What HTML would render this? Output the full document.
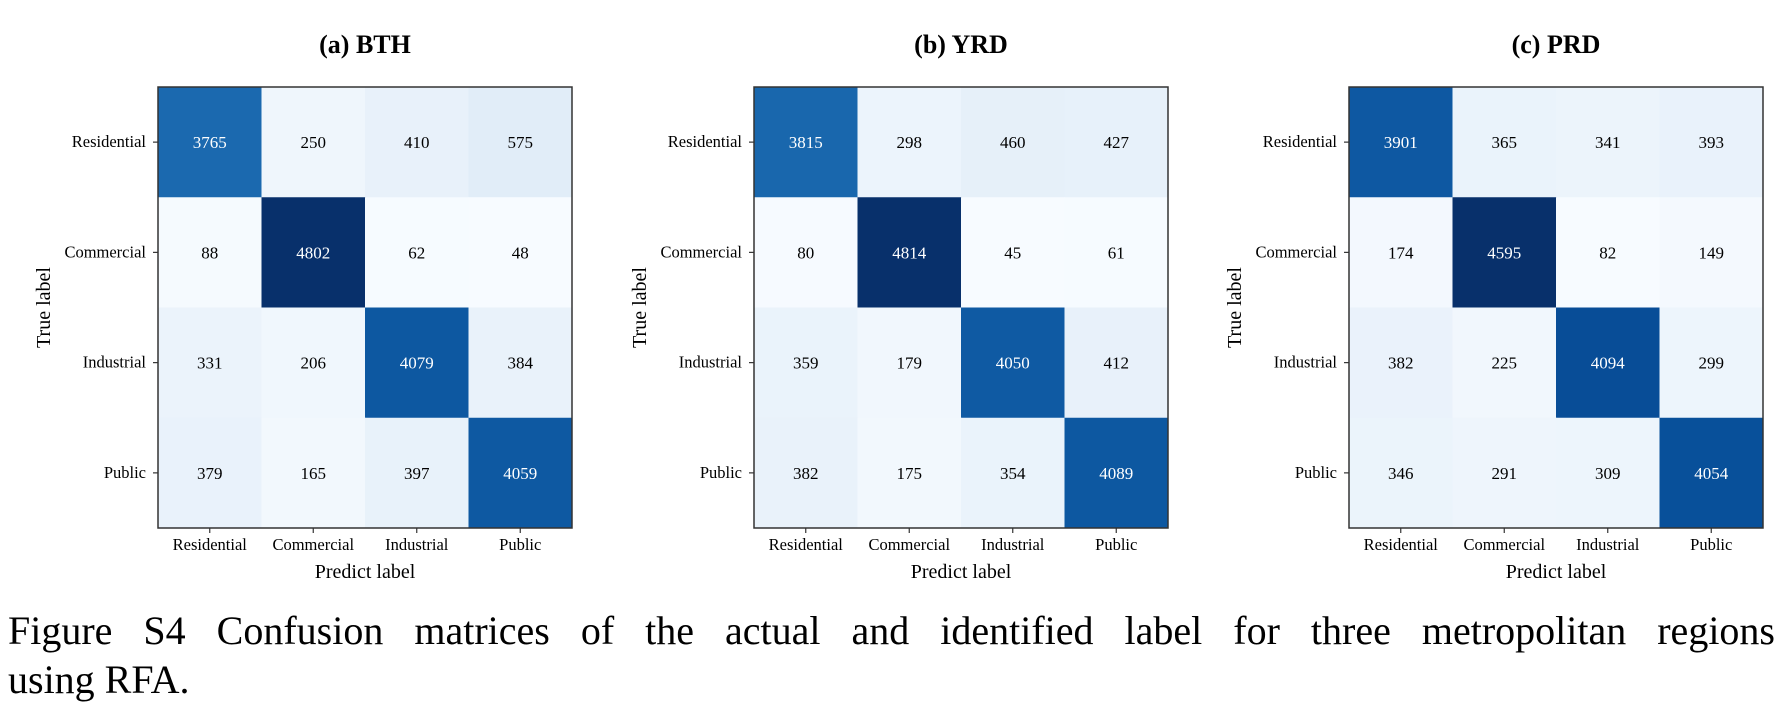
<!DOCTYPE html>
<html><head><meta charset="utf-8">
<style>
html,body{margin:0;padding:0;background:#fff;}
body{width:1784px;height:726px;overflow:hidden;position:relative;font-family:"Liberation Serif",serif;}
#cap{position:absolute;left:8px;width:1767px;top:606px;font-size:40px;line-height:49px;color:#000;}
#cap .l1{display:block;white-space:nowrap;text-align:justify;text-align-last:justify;}
</style></head>
<body>
<svg id="chart" width="1784" height="600" style="position:absolute;left:0;top:0" font-family="Liberation Serif, serif"></svg>
<div id="cap"><span class="l1">Figure S4 Confusion matrices of the actual and identified label for three metropolitan regions</span>using RFA.</div>
<script>
const classLabels = ["Residential","Commercial","Industrial","Public"];
const panelTitles = ["(a) BTH","(b) YRD","(c) PRD"];
const bthValues = [[3765,250,410,575],[88,4802,62,48],[331,206,4079,384],[379,165,397,4059]];
const yrdValues = [[3815,298,460,427],[80,4814,45,61],[359,179,4050,412],[382,175,354,4089]];
const prdValues = [[3901,365,341,393],[174,4595,82,149],[382,225,4094,299],[346,291,309,4054]];

(function(){
const panels=[bthValues,yrdValues,prdValues];
const lefts=[158,754,1349], T=87, W=414, H=441;
const blues=["#f7fbff","#deebf7","#c6dbef","#9ecae1","#6baed6","#4292c6","#2171b5","#08519c","#08306b"];
function hex(h){return [1,3,5].map(i=>parseInt(h.substr(i,2),16));}
function cmap(t){t=Math.max(0,Math.min(1,t));const p=t*8,i=Math.min(7,Math.floor(p)),f=p-i;const a=hex(blues[i]),b=hex(blues[i+1]);return "rgb("+a.map((v,k)=>Math.round(v+(b[k]-v)*f)).join(",")+")";}
const NS="http://www.w3.org/2000/svg", svg=document.getElementById("chart");
function el(tag,attrs,parent,text){const e=document.createElementNS(NS,tag);for(const k in attrs)e.setAttribute(k,attrs[k]);if(text!=null)e.textContent=text;(parent||svg).appendChild(e);return e;}
panels.forEach((vals,p)=>{
  const g=el("g",{});
  
  
  const L=lefts[p], n=classLabels.length, cw=W/n, ch=H/n;
  const flat=vals.flat(), mn=Math.min(...flat), mx=Math.max(...flat);
  const xs=i=>L+i*cw, ys=j=>T+j*ch;
  const t=el("text",{x:L+W/2,y:53,"text-anchor":"middle","font-size":"26","font-weight":"bold"},g,panelTitles[p]);
  
  
  vals.forEach((row,r)=>row.forEach((v,c)=>{
    const tt=(v-mn)/(mx-mn);
    const rc=el("rect",{x:xs(c),y:ys(r),width:cw+0.5,height:ch+0.5,fill:cmap(tt)},g);
    
    
    const tx=el("text",{x:xs(c)+cw/2,y:ys(r)+ch/2+6,"text-anchor":"middle","font-size":"17",fill:tt>0.5?"#fff":"#000"},g,String(v));
    
    
  }));
  const fr=el("rect",{x:L,y:T,width:W,height:H,fill:"none",stroke:"#333","stroke-width":"1.5"},g);
  
  
  classLabels.forEach((lab,i)=>{
    const cy=ys(i)+ch/2, cx=xs(i)+cw/2;
    el("line",{x1:L-5,x2:L,y1:cy,y2:cy,stroke:"#333","stroke-width":"1.2"},g);
    const yl=el("text",{x:L-12,y:cy+5,"text-anchor":"end","font-size":"16.5"},g,lab);
    
    
    el("line",{x1:cx,x2:cx,y1:T+H,y2:T+H+5,stroke:"#333","stroke-width":"1.2"},g);
    const xl=el("text",{x:cx,y:T+H+22,"text-anchor":"middle","font-size":"16.5"},g,lab);
    
    
  });
  const xt=el("text",{x:L+W/2,y:578,"text-anchor":"middle","font-size":"20"},g,"Predict label");
  
  
  const yt=el("text",{x:0,y:0,"text-anchor":"middle","font-size":"20",transform:"translate("+(L-108)+","+(T+H/2)+") rotate(-90)"},g,"True label");
  
  
});
})();
</script>
</body></html>
